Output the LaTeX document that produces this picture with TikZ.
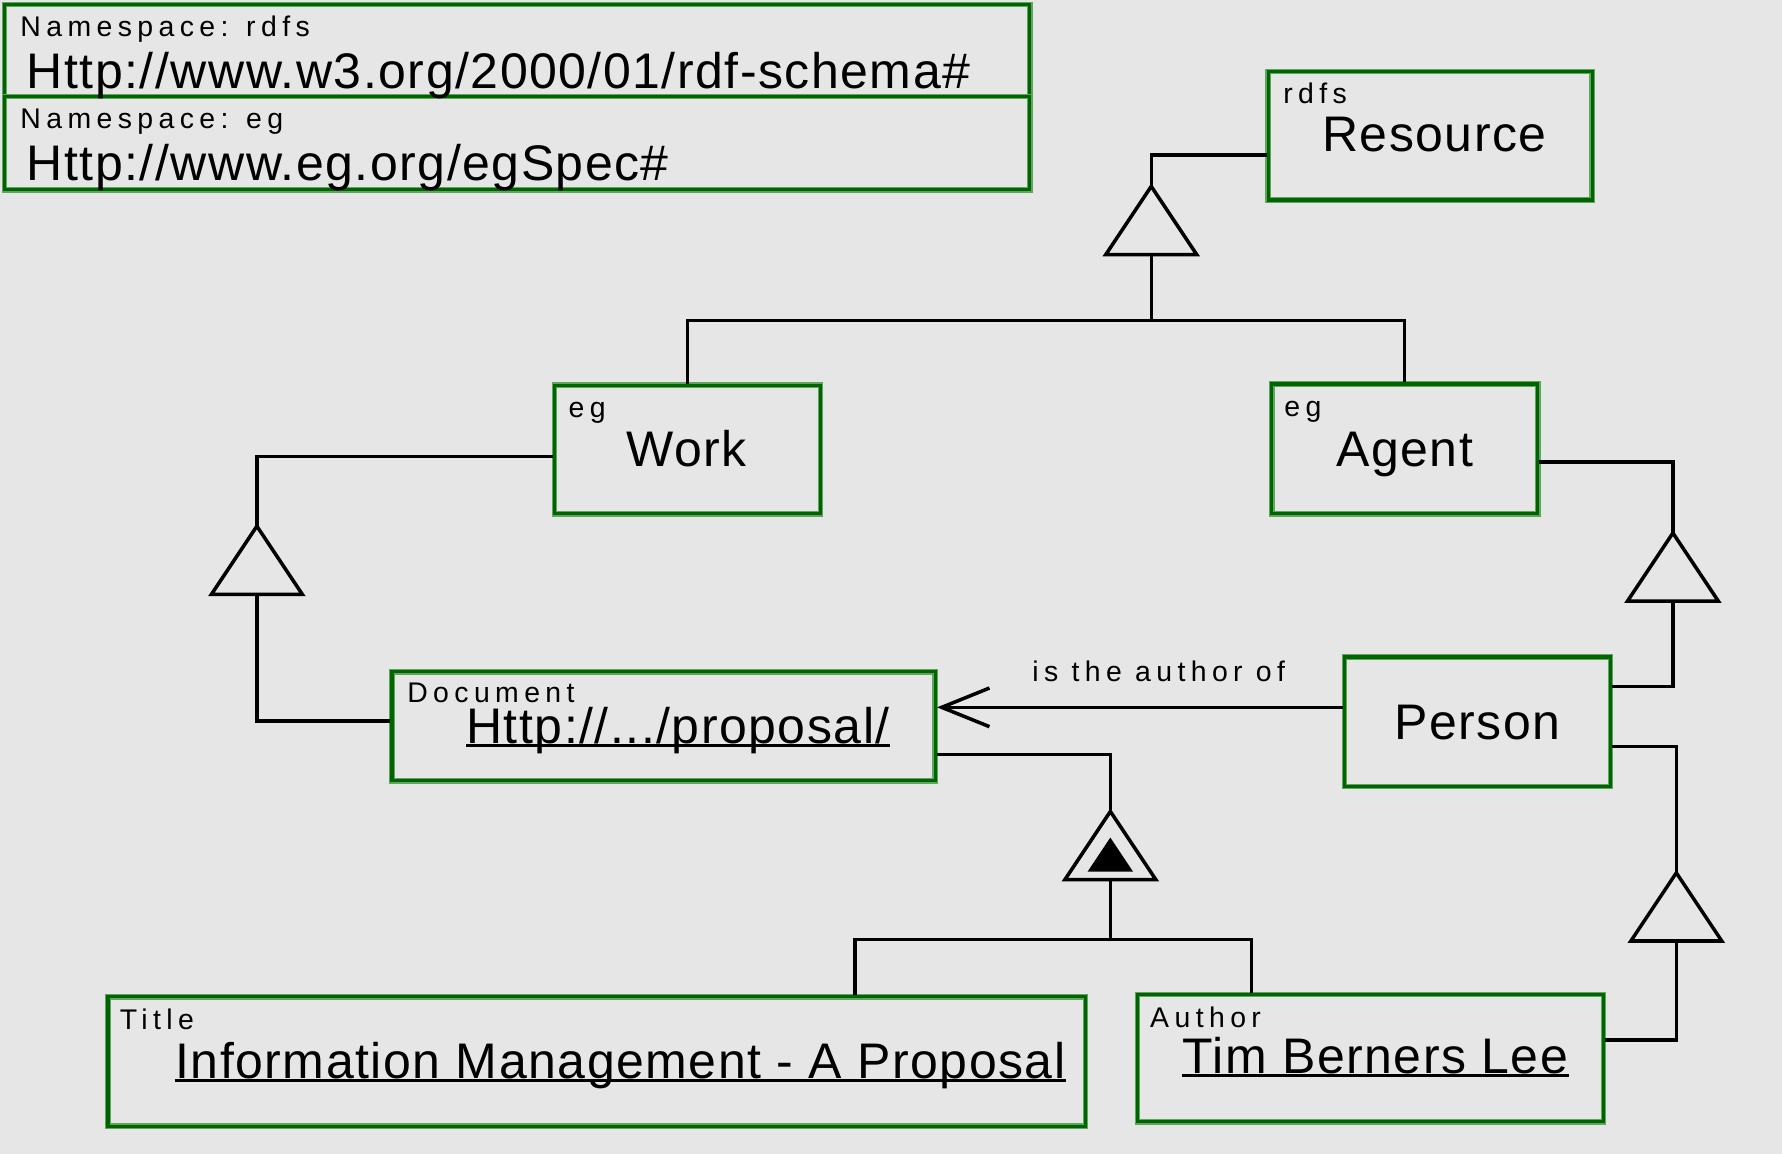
\documentclass[tikz,border=0pt]{standalone}
\usepackage{fontspec}
\setmainfont{Liberation Sans}
\newfontfamily\labelfont[LetterSpace=3]{Liberation Sans}
\newfontfamily\tagfont[LetterSpace=19]{Liberation Sans}
\usetikzlibrary{arrows.meta}
\definecolor{canvas}{RGB}{230,230,230}
\definecolor{boxgreen}{RGB}{0,100,0}
\definecolor{boxhalo}{RGB}{95,165,95}

\begin{document}
\begin{tikzpicture}[x=0.5pt,y=-0.5pt,
  box/.style={rectangle, draw=boxgreen, line width=1.5pt,
    preaction={draw=boxhalo, line width=2.5pt}, inner sep=0pt},
  smalltext/.style={anchor=base west, inner sep=0pt,
    font=\tagfont\fontsize{12.5}{14}\selectfont},
  maintext/.style={anchor=base west, inner sep=0pt,
    font=\labelfont\fontsize{22}{26}\selectfont},
  conn/.style={draw=black, line width=1.55pt, line join=miter},
  uline/.style={line width=1.1pt},
  gentri/.pic={
    \draw[conn] (0,0) -- (-40,60) -- (40,60) -- cycle;
    \coordinate (-apex) at (0,0);
    \coordinate (-base) at (0,60);
  },
  aggtri/.pic={
    \draw[conn] (0,0) -- (-40,60) -- (40,60) -- cycle;
    \fill (0,23) -- (-20,53) -- (20,53) -- cycle;
    \coordinate (-apex) at (0,0);
    \coordinate (-base) at (0,60);
  }
]
% canvas
\fill[canvas] (0,0) rectangle (1568,1015);
\useasboundingbox (0,0) rectangle (1568,1015);

% namespace header boxes
\node[box, minimum width=451pt, minimum height=40.5pt] (nsrdfs) at (455,44.5) {};
\node[box, minimum width=451pt, minimum height=41pt] (nseg) at (455,126) {};
\node[smalltext] (nsrdfslbl) at (17.6,32.3) {Namespace: rdfs};
\node[maintext] (nsrdfsuri) at (23.3,77.7) {Http://www.w3.org/2000/01/rdf-schema\#};
\node[smalltext] (nseglbl) at (17.6,113) {Namespace: eg};
\node[maintext] (nseguri) at (23.3,158.4) {Http://www.eg.org/egSpec\#};

% classes
\node[box, minimum width=142.5pt, minimum height=56.5pt] (res) at (1258.5,119.5) {};
\node[smalltext] (reslbl) at (1128.8,90.9) {rdfs};
\node[maintext] (resname) at (1163,133.5) {Resource};

\node[box, minimum width=117pt, minimum height=56.5pt] (work) at (605,395.5) {};
\node[smalltext] (worklbl) at (500,367.5) {eg};
\node[maintext] (workname) at (551,410.6) {Work};

\node[box, minimum width=117pt, minimum height=57pt] (agent) at (1236,395) {};
\node[smalltext] (agentlbl) at (1129.8,366.6) {eg};
\node[maintext] (agentname) at (1175.5,410.6) {Agent};

\node[box, minimum width=117pt, minimum height=57pt] (person) at (1300,635) {};
\node[maintext] (personname) at (1226.4,650.5) {Person};

% instances
\node[box, minimum width=239pt, minimum height=48pt] (doc) at (584,639) {};
\node[smalltext] (doclbl) at (358,618.5) {Document};
\node[maintext] (docuri) at (410,654) {Http://.../proposal/};
\draw[uline] ([yshift=-1pt]docuri.base west) -- ([yshift=-1pt]docuri.base east);

\node[box, minimum width=430pt, minimum height=57pt] (title) at (525,934) {};
\node[smalltext] (titlelbl) at (105,906) {Title};
\node[maintext] (titleval) at (154,948.6) {Information Management - A Proposal};
\draw[uline] ([yshift=-1pt]titleval.base west) -- ([yshift=-1pt]titleval.base east);

\node[box, minimum width=205pt, minimum height=56pt] (author) at (1206,931) {};
\node[smalltext] (authorlbl) at (1011.7,904.3) {Author};
\node[maintext] (authorval) at (1040,944.4) {Tim Berners Lee};
\draw[uline] ([yshift=-1pt]authorval.base west) -- ([yshift=-1pt]authorval.base east);

% generalisation triangles
\pic (t1) at (1013,164) {gentri};
\pic (t2) at (226,463) {gentri};
\pic (t3) at (1472,469) {gentri};
\pic (t4) at (1475,768) {gentri};
\pic (t5) at (977,714) {aggtri};

\coordinate (bar1) at (1013,282);
\coordinate (bar2) at (977,826.5);

% connectors
\draw[conn] (t1-apex) |- ([shift={(0,17)}]res.west);
\draw[conn] (t1-base) -- (bar1);
\draw[conn] (work.north) |- (bar1) -| (agent.north);

\draw[conn] (t2-apex) |- ([shift={(0,6.3)}]work.west);
\draw[conn] (t2-base) |- ([shift={(0,-4.5)}]doc.west);

\draw[conn] (t3-apex) |- ([shift={(0,11.5)}]agent.east);
\draw[conn] (t3-base) |- ([shift={(0,-31)}]person.east);

\draw[conn] (t4-apex) |- ([shift={(0,22)}]person.east);
\draw[conn] (t4-base) |- ([shift={(0,-16)}]author.east);

\draw[conn] (t5-apex) |- ([shift={(0,25)}]doc.east);
\draw[conn] (t5-base) -- (bar2);
\draw[conn] ([shift={(227.4,0)}]title.north) |- (bar2) -| ([shift={(-105,0)}]author.north);

% association
\draw[conn, -{Straight Barb[length=21pt,width=17pt]}]
  ([shift={(0,-12.6)}]person.west) -- ([shift={(0,-16.6)}]doc.east);
\node[smalltext] (rel) at (908,599.8) {is the author of};
\end{tikzpicture}
\end{document}
